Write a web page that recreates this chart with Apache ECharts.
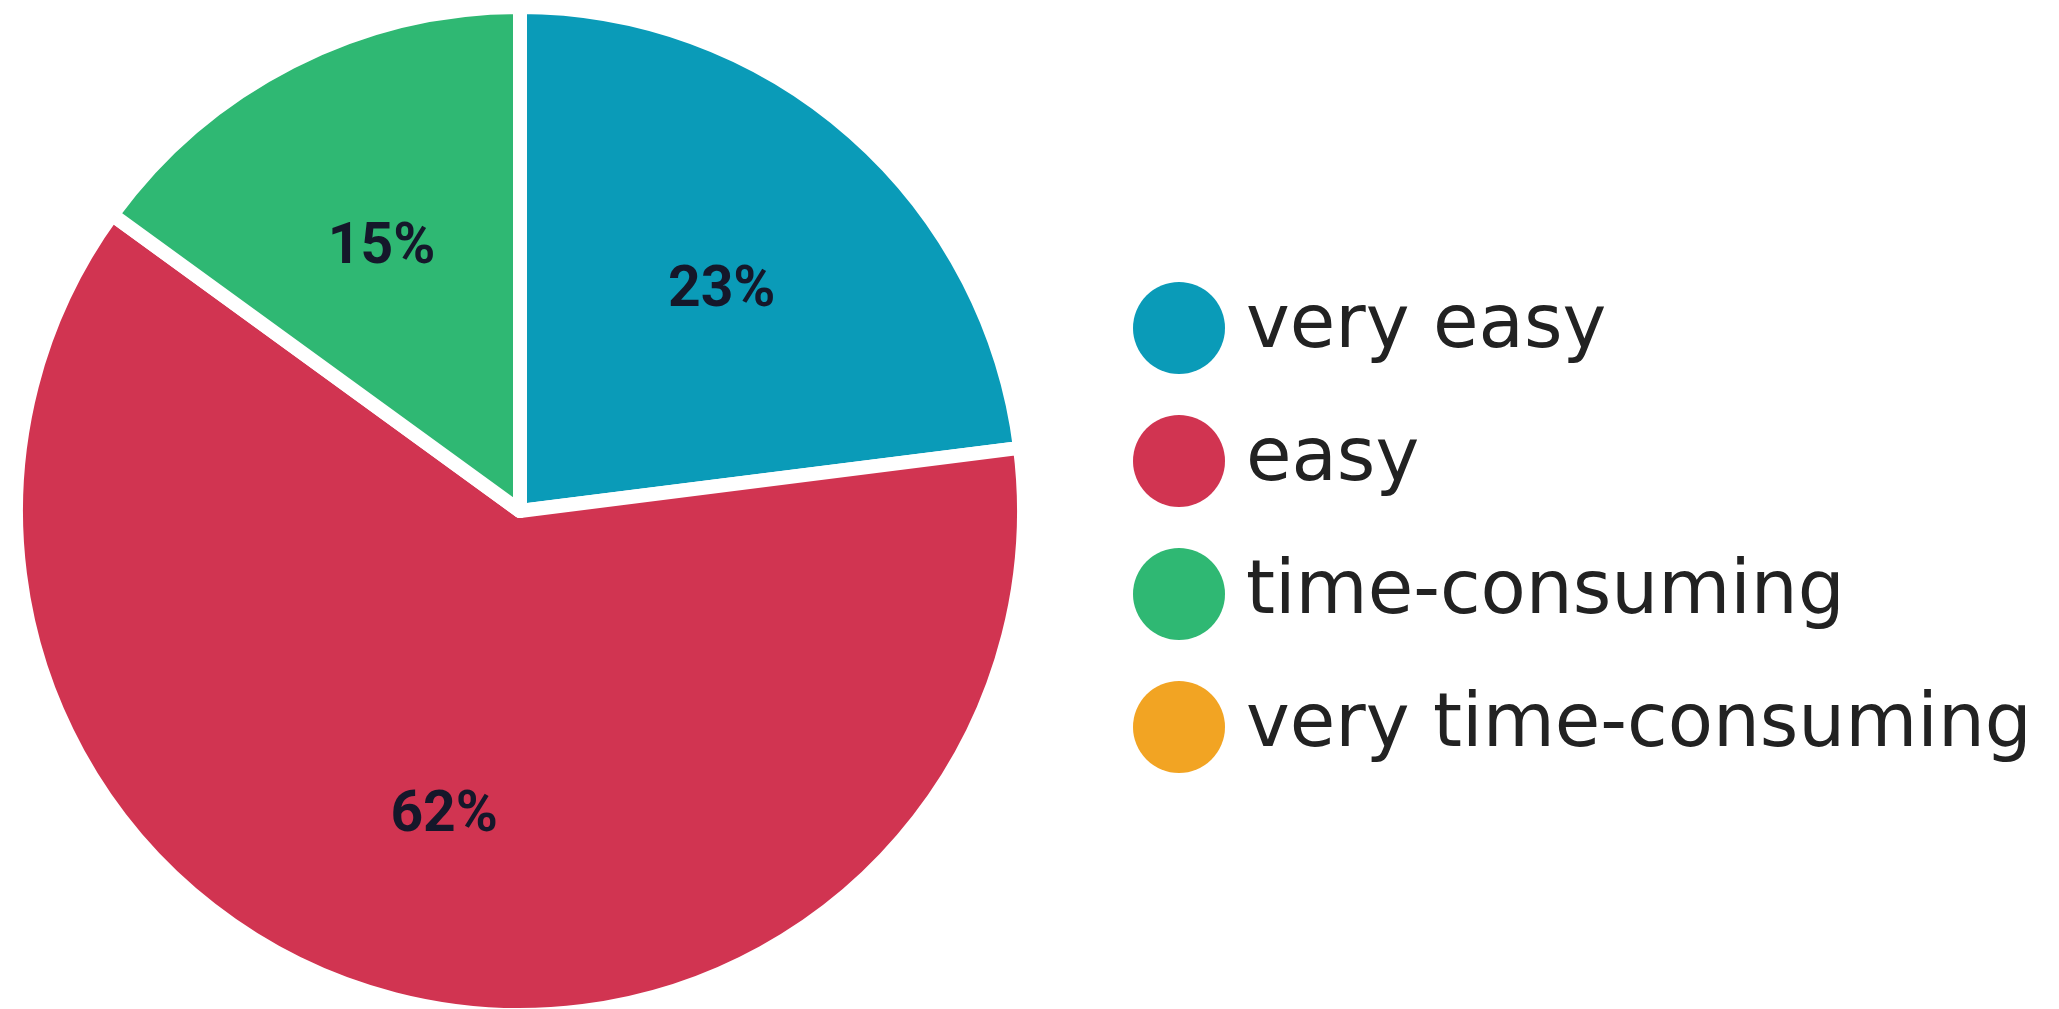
<!DOCTYPE html>
<html>
<head>
<meta charset="utf-8">
<script src="https://cdn.jsdelivr.net/npm/echarts@6/dist/echarts.min.js"></script>
<style>
html,body{margin:0;padding:0;background:#fff;}
#chart{width:2059px;height:1009px;}
</style>
</head>
<body>
<div id="chart"></div>
<script>
const categories = ['very easy', 'easy', 'time-consuming', 'very time-consuming'];
const values = [23, 62, 15, 0];
const colors = ['#0a9bb8', '#d13451', '#2fb873', '#f2a423'];

const chart = echarts.init(document.getElementById('chart'), null, {renderer: 'canvas'});

const mainData = categories.map((c, i) => ({name: c, value: values[i], itemStyle: {color: colors[i]}}));
const labelData = categories.map((c, i) => ({name: c, value: values[i]}));

chart.setOption({
  animation: false,
  backgroundColor: '#ffffff',
  legend: {
    orient: 'vertical',
    left: 1128,
    top: 277,
    icon: 'circle',
    itemWidth: 92,
    itemHeight: 92,
    itemGap: 41,
    selectedMode: false,
    itemStyle: {borderWidth: 0},
    data: categories.map((c, i) => ({name: c, itemStyle: {color: colors[i], borderWidth: 0}})),
    textStyle: {
      fontFamily: 'DejaVu Sans',
      fontSize: 74,
      color: '#222222',
      padding: [0, 0, 0, 16]
    }
  },
  series: [
    {
      type: 'pie',
      center: [520, 511],
      radius: [0, 504],
      startAngle: 90,
      clockwise: true,
      silent: true,
      label: {show: false},
      labelLine: {show: false},
      itemStyle: {borderColor: '#ffffff', borderWidth: 14},
      data: mainData
    },
    {
      type: 'pie',
      center: [520, 511],
      radius: [0, 604],
      startAngle: 90,
      clockwise: true,
      silent: true,
      legendHoverLink: false,
      itemStyle: {color: 'rgba(0,0,0,0)', borderWidth: 0},
      label: {
        show: true,
        position: 'inside',
        fontFamily: 'Roboto',
        fontWeight: 'bold',
        fontSize: 57,
        color: '#15172a',
        offset: [0, 10],
        formatter: p => p.value > 0 ? p.value + '%' : ''
      },
      labelLine: {show: false},
      data: labelData
    }
  ]
});
</script>
</body>
</html>
